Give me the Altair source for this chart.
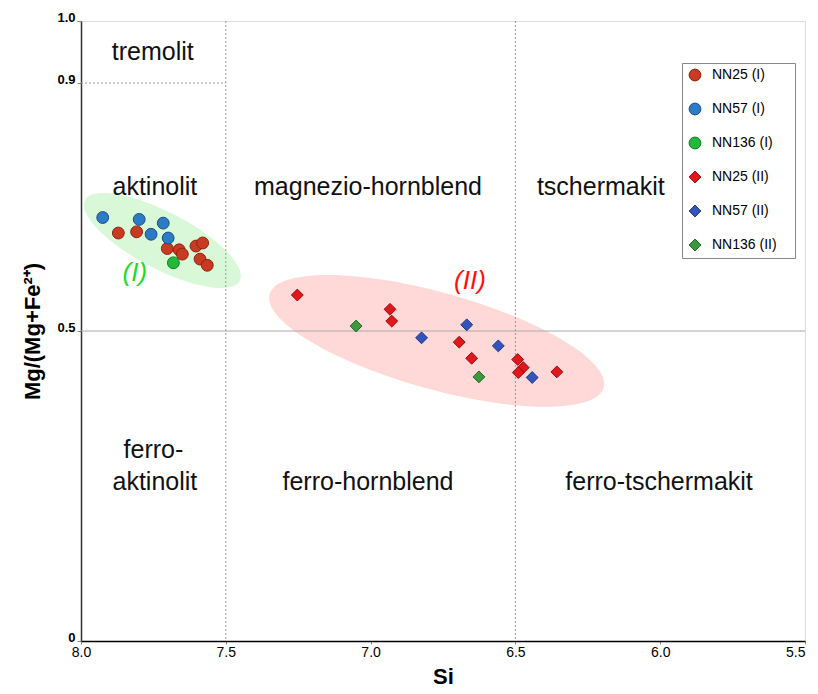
import altair as alt
import pandas as pd

# ---------------- data ----------------
series_names = ["NN25 (I)", "NN57 (I)", "NN136 (I)", "NN25 (II)", "NN57 (II)", "NN136 (II)"]

nn25_I_si = [7.871, 7.808, 7.702, 7.661, 7.650, 7.603, 7.580, 7.589, 7.564]
nn25_I_mg = [0.658, 0.660, 0.633, 0.631, 0.624, 0.637, 0.642, 0.616, 0.606]
nn57_I_si = [7.925, 7.799, 7.716, 7.758, 7.699]
nn57_I_mg = [0.683, 0.680, 0.674, 0.656, 0.650]
nn136_I_si = [7.681]
nn136_I_mg = [0.610]
nn25_II_si = [7.253, 6.933, 6.927, 6.694, 6.651, 6.492, 6.473, 6.490, 6.357]
nn25_II_mg = [0.558, 0.535, 0.516, 0.482, 0.456, 0.454, 0.441, 0.433, 0.434]
nn57_II_si = [6.824, 6.668, 6.559, 6.442]
nn57_II_mg = [0.489, 0.510, 0.476, 0.425]
nn136_II_si = [7.050, 6.626]
nn136_II_mg = [0.508, 0.426]

si_lists = [nn25_I_si, nn57_I_si, nn136_I_si, nn25_II_si, nn57_II_si, nn136_II_si]
mg_lists = [nn25_I_mg, nn57_I_mg, nn136_I_mg, nn25_II_mg, nn57_II_mg, nn136_II_mg]

fill_colors = ["#c83b22", "#2b7cc4", "#22b83a", "#e0181c", "#3355bb", "#3c9a3c"]
stroke_colors = ["#8a2410", "#1a4f85", "#137a22", "#9a0a0e", "#1f3580", "#226622"]
shapes = ["circle", "circle", "circle", "diamond", "diamond", "diamond"]
sizes = [140, 140, 140, 200, 200, 200]

# region names of the classification diagram
region_labels = ["tremolit", "aktinolit", "magnezio-hornblend", "tschermakit",
                 "ferro-", "aktinolit", "ferro-hornblend", "ferro-tschermakit"]
region_si = [7.752, 7.745, 7.009, 6.205, 7.75, 7.745, 7.009, 6.004]
region_mg = [0.950, 0.732, 0.732, 0.732, 0.308, 0.256, 0.256, 0.256]

# group labels
group_labels = ["(I)", "(II)"]
group_si = [7.814, 6.657]
group_mg = [0.594, 0.581]
group_colors = ["#22dd22", "#ff1010"]

# ellipse centres
ell_si = [7.719, 6.772]
ell_mg = [0.646, 0.484]

# boundary lines
vline_si = [7.5, 6.5]
hline_mg = [0.5]
tremolit_mg = [0.9]

x_ticks = [8.0, 7.5, 7.0, 6.5, 6.0, 5.5]
y_ticks = [0, 0.5, 0.9, 1.0]

rows = []
for name, sis, mgs in zip(series_names, si_lists, mg_lists):
    for s, m in zip(sis, mgs):
        rows.append({"series": name, "si": s, "mg": m})
df = pd.DataFrame(rows)

W, H = 724, 620
x_scale = alt.Scale(domain=[5.5, 8.0], reverse=True, nice=False, zero=False)
y_scale = alt.Scale(domain=[0, 1], nice=False, zero=False)

FONT = "Liberation Sans, Arial, sans-serif"

x_axis = alt.Axis(values=x_ticks, format=".1f", labelFlush=False, grid=False,
                  labelAlign={"condition": {"test": "datum.value <= 5.5", "value": "right"},
                              "value": "center"},
                  labelFont="Liberation Sans Narrow, Liberation Sans, sans-serif",
                  labelFontSize=14, labelColor="#000", tickColor="#888", tickSize=3,
                  domainColor="#000", domainWidth=1.5, labelPadding=1,
                  titleFont=FONT, titleFontSize=22, titleFontWeight="bold",
                  titlePadding=7, titleColor="#000")
y_axis = alt.Axis(values=y_ticks, grid=False,
                  labelExpr="datum.value == 0 ? '0' : format(datum.value, '.1f')",
                  labelFont=FONT, labelFontSize=13, labelFontWeight="bold",
                  labelBaseline="alphabetic",
                  labelColor="#000", tickColor="#888", tickSize=4,
                  domainColor="#333", domainWidth=1.5, labelPadding=2,
                  titleFont=FONT, titleFontSize=22, titleFontWeight="bold",
                  titlePadding=12, titleColor="#000")

# ellipses
ell_df = pd.DataFrame({"si": ell_si, "mg": ell_mg})
ell_green = alt.Chart(ell_df.iloc[[0]]).mark_point(
    shape="M-1,0A1,0.326,0,1,1,1,0A1,0.326,0,1,1,-1,0Z",
    size=174.4 ** 2, angle=27.5, filled=True, fill="#d8f8d8", opacity=1, strokeWidth=0
).encode(x=alt.X("si:Q", scale=x_scale, axis=x_axis, title="Si"),
         y=alt.Y("mg:Q", scale=y_scale, axis=y_axis, title="Mg/(Mg+Fe²⁺)"))
ell_red = alt.Chart(ell_df.iloc[[1]]).mark_point(
    shape="M-1,0A1,0.279,0,1,1,1,0A1,0.279,0,1,1,-1,0Z",
    size=346.8 ** 2, angle=15.6, filled=True, fill="#ffd8d8", opacity=1, strokeWidth=0
).encode(x="si:Q", y="mg:Q")

# boundary lines
vlines = alt.Chart(pd.DataFrame({"si": vline_si})).mark_rule(
    color="#999", strokeDash=[2, 2], strokeWidth=1).encode(x="si:Q")
hline = alt.Chart(pd.DataFrame({"mg": hline_mg})).mark_rule(
    color="#aaa", strokeWidth=1).encode(y="mg:Q")
trem = alt.Chart(pd.DataFrame({"mg": tremolit_mg, "x1": [8.0], "x2": [7.5]})).mark_rule(
    color="#999", strokeDash=[2, 2], strokeWidth=1).encode(y="mg:Q", x="x1:Q", x2="x2:Q")

# region text
regions = alt.Chart(pd.DataFrame({"label": region_labels, "si": region_si, "mg": region_mg})).mark_text(
    font=FONT, fontSize=25, color="#111", align="center", baseline="middle"
).encode(x="si:Q", y="mg:Q", text="label:N")

groups = alt.Chart(pd.DataFrame({"label": group_labels, "si": group_si, "mg": group_mg,
                                 "c": group_colors})).mark_text(
    font=FONT, fontSize=26, fontStyle="italic", align="center", baseline="middle"
).encode(x="si:Q", y="mg:Q", text="label:N", color=alt.Color("c:N", scale=None))

legend = alt.Legend(title="\u2800", titleOrient="right", titleColor="#ffffff",
                    titleFontSize=14, titlePadding=3,
                    orient="none", legendX=601, legendY=42,
                    padding=5, rowPadding=18, labelFont=FONT, labelFontSize=14,
                    labelColor="#000", symbolSize=120, labelOffset=10,
                    labelLimit=200, symbolOffset=1,
                    strokeColor="#888", fillColor="#ffffff", symbolStrokeWidth=1)

points = alt.Chart(df).mark_point(filled=True, opacity=1, strokeWidth=1).encode(
    x="si:Q", y="mg:Q",
    color=alt.Color("series:N", scale=alt.Scale(domain=series_names, range=fill_colors), legend=legend),
    shape=alt.Shape("series:N", scale=alt.Scale(domain=series_names, range=shapes), legend=legend),
    stroke=alt.Stroke("series:N", scale=alt.Scale(domain=series_names, range=stroke_colors), legend=None),
    size=alt.Size("series:N", scale=alt.Scale(domain=series_names, range=sizes), legend=None),
)

chart = alt.layer(ell_green, ell_red, vlines, hline, trem, regions, groups, points).properties(
    width=W, height=H,
    autosize=alt.AutoSizeParams(type="none"),
    padding={"left": 73, "top": 13, "right": 5, "bottom": 46},
).configure_view(stroke="#000", strokeWidth=1.5).configure(background="white")

chart.save("out.html", embed_options={"renderer": "svg", "actions": False})
